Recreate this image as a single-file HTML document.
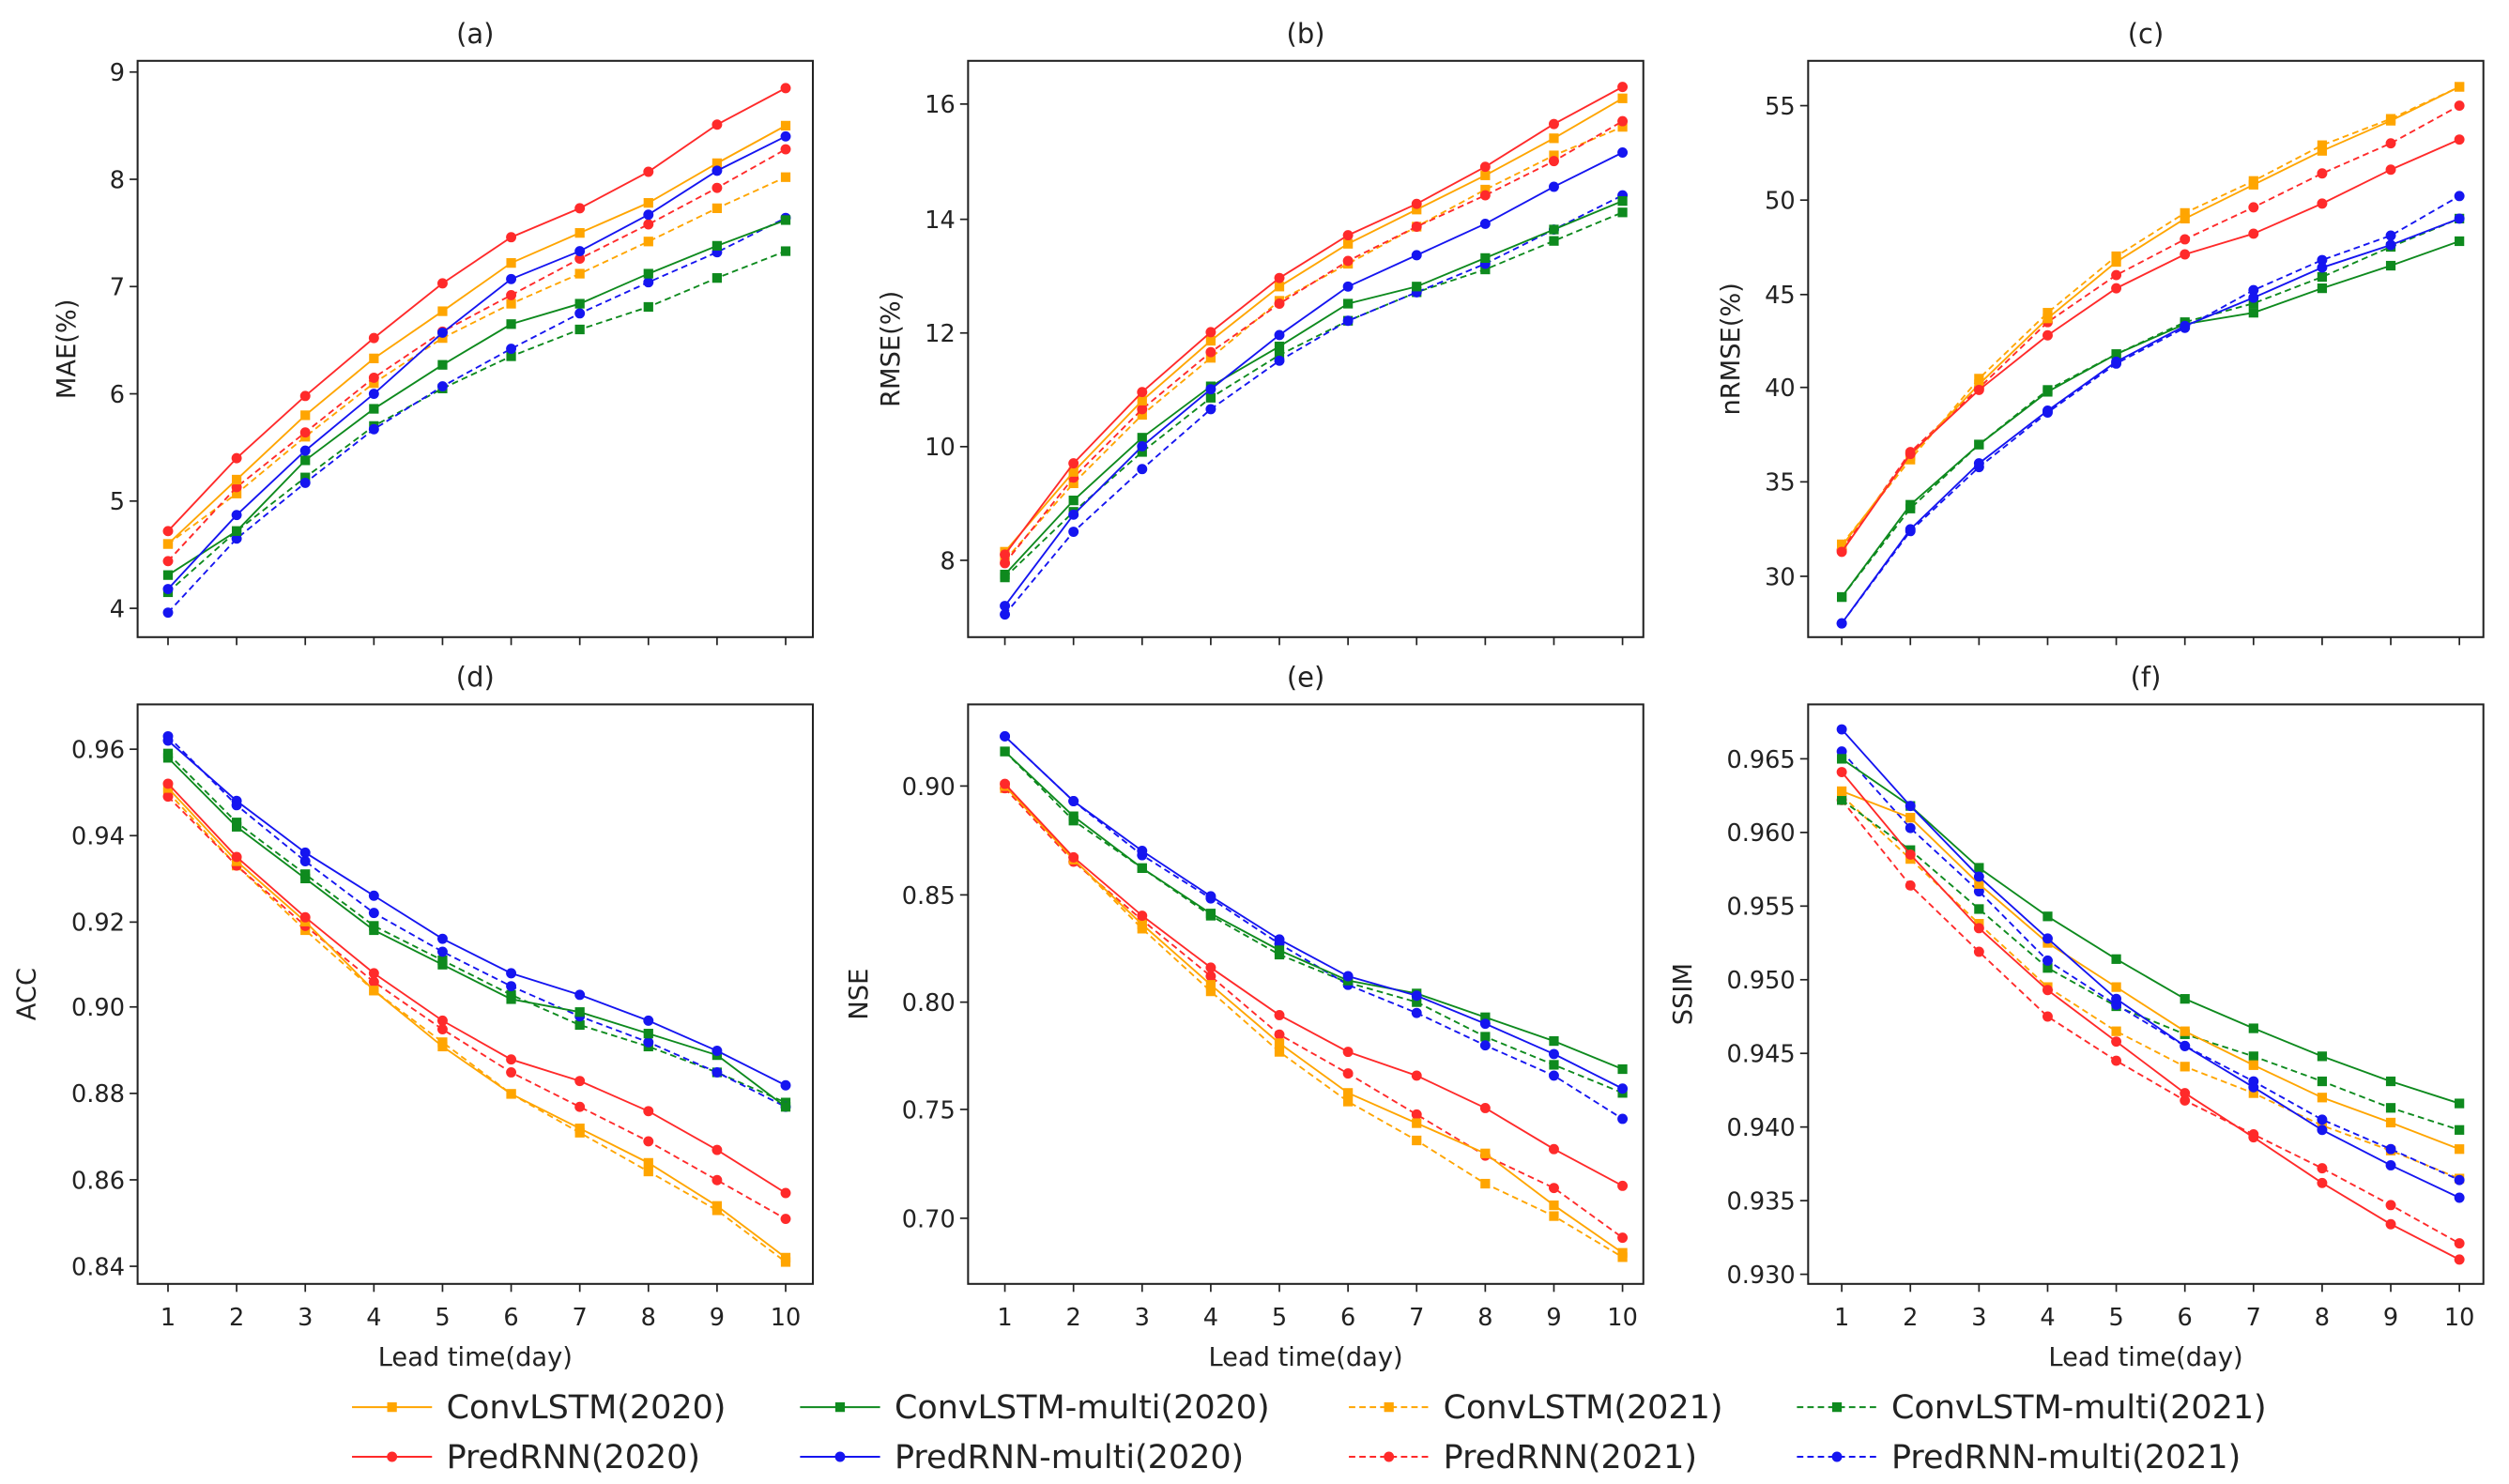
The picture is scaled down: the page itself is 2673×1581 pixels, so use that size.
<!DOCTYPE html>
<html><head><meta charset="utf-8"><style>
html,body{margin:0;padding:0;background:#fff}
svg{display:block}
text{font-family:"DejaVu Sans","Liberation Sans",sans-serif;fill:#222}
</style></head><body>
<svg id="s" width="2673" height="1581" viewBox="0 0 1568 927" preserveAspectRatio="none" xmlns="http://www.w3.org/2000/svg"></svg>
<script>
const NS="http://www.w3.org/2000/svg";const S=document.getElementById('s');
function el(t,a,txt){const e=document.createElementNS(NS,t);for(const k in a)e.setAttribute(k,a[k]);if(txt!==undefined)e.textContent=txt;S.appendChild(e);return e;}
const C={o:'#FFA500',r:'#FF2A2A',g:'#0E8A1E',b:'#1515F0'};
const ST=[['o',0,'s'],['r',0,'c'],['g',0,'s'],['b',0,'c'],['o',1,'s'],['r',1,'c'],['g',1,'s'],['b',1,'c']];
const P=[
{t:'(a)',yl:'MAE(%)',ylx:47,L:86,R:508,T:38,B:398,x1:105,x10:491,ticks:[[9,45],[8,112],[7,179],[6,246],[5,313],[4,380]],fmt:v=>v,xl:false,
d:[[4.60,5.20,5.80,6.33,6.77,7.22,7.50,7.78,8.15,8.50],[4.72,5.40,5.98,6.52,7.03,7.46,7.73,8.07,8.51,8.85],[4.31,4.72,5.38,5.86,6.27,6.65,6.84,7.12,7.38,7.62],[4.18,4.87,5.47,6.00,6.57,7.07,7.33,7.67,8.08,8.40],[4.60,5.07,5.60,6.10,6.52,6.84,7.12,7.42,7.73,8.02],[4.44,5.13,5.64,6.15,6.58,6.92,7.26,7.58,7.92,8.28],[4.15,4.72,5.22,5.70,6.05,6.35,6.60,6.81,7.08,7.33],[3.96,4.65,5.17,5.67,6.07,6.42,6.75,7.04,7.32,7.64]]},
{t:'(b)',yl:'RMSE(%)',ylx:562,L:605,R:1027,T:38,B:398,x1:628,x10:1014,ticks:[[16,65],[14,137],[12,208],[10,279],[8,350]],fmt:v=>v,xl:false,
d:[[8.15,9.55,10.8,11.85,12.8,13.55,14.15,14.75,15.4,16.1],[8.1,9.7,10.95,12.0,12.95,13.7,14.25,14.9,15.65,16.3],[7.75,9.05,10.15,11.05,11.75,12.5,12.8,13.3,13.8,14.3],[7.2,8.8,10.0,11.0,11.95,12.8,13.35,13.9,14.55,15.15],[8.0,9.35,10.55,11.55,12.55,13.2,13.85,14.5,15.1,15.6],[7.95,9.45,10.65,11.65,12.5,13.25,13.85,14.4,15.0,15.7],[7.7,8.85,9.9,10.85,11.6,12.2,12.7,13.1,13.6,14.1],[7.05,8.5,9.6,10.65,11.5,12.2,12.7,13.2,13.8,14.4]]},
{t:'(c)',yl:'nRMSE(%)',ylx:1087,L:1130,R:1552,T:38,B:398,x1:1151,x10:1537,ticks:[[55,66],[50,125],[45,184],[40,242],[35,301],[30,360]],fmt:v=>v,xl:false,
d:[[31.6,36.4,40.2,43.7,46.7,49.0,50.8,52.6,54.2,56.0],[31.3,36.5,39.9,42.8,45.3,47.1,48.2,49.8,51.6,53.2],[28.9,33.8,37.0,39.8,41.8,43.4,44.0,45.3,46.5,47.8],[27.5,32.5,36.0,38.8,41.4,43.3,44.8,46.4,47.6,49.0],[31.7,36.2,40.5,44.0,47.0,49.3,51.0,52.9,54.3,56.0],[31.4,36.6,40.0,43.5,46.0,47.9,49.6,51.4,53.0,55.0],[28.9,33.6,37.0,39.9,41.8,43.5,44.5,45.9,47.5,49.0],[27.5,32.4,35.8,38.7,41.3,43.2,45.2,46.8,48.1,50.2]]},
{t:'(d)',yl:'ACC',ylx:22,L:86,R:508,T:440,B:802,x1:105,x10:491,ticks:[[0.96,468],[0.94,522],[0.92,576],[0.90,629],[0.88,683],[0.86,737],[0.84,791]],fmt:v=>v.toFixed(2),xl:true,
d:[[.951,.934,.920,.904,.891,.880,.872,.864,.854,.842],[.952,.935,.921,.908,.897,.888,.883,.876,.867,.857],[.958,.942,.930,.918,.910,.902,.899,.894,.889,.877],[.962,.948,.936,.926,.916,.908,.903,.897,.890,.882],[.950,.933,.918,.904,.892,.880,.871,.862,.853,.841],[.949,.933,.919,.906,.895,.885,.877,.869,.860,.851],[.959,.943,.931,.919,.911,.903,.896,.891,.885,.878],[.963,.947,.934,.922,.913,.905,.898,.892,.885,.877]]},
{t:'(e)',yl:'NSE',ylx:542,L:605,R:1027,T:440,B:802,x1:628,x10:1014,ticks:[[0.90,491],[0.85,559],[0.80,626],[0.75,693],[0.70,761]],fmt:v=>v.toFixed(2),xl:true,
d:[[.900,.866,.836,.808,.781,.758,.744,.730,.706,.684],[.901,.867,.840,.816,.794,.777,.766,.751,.732,.715],[.916,.886,.862,.841,.824,.810,.804,.793,.782,.769],[.923,.893,.870,.849,.829,.812,.803,.790,.776,.760],[.899,.866,.834,.805,.777,.754,.736,.716,.701,.682],[.899,.865,.838,.812,.785,.767,.748,.729,.714,.691],[.916,.884,.862,.840,.822,.809,.800,.784,.771,.758],[.923,.893,.868,.848,.827,.808,.795,.780,.766,.746]]},
{t:'(f)',yl:'SSIM',ylx:1057,L:1130,R:1552,T:440,B:802,x1:1151,x10:1537,ticks:[[0.965,474],[0.960,520],[0.955,566],[0.950,612],[0.945,658],[0.940,704],[0.935,750],[0.930,796]],fmt:v=>v.toFixed(3),xl:true,
d:[[.9628,.9610,.9565,.9525,.9495,.9465,.9442,.9420,.9403,.9385],[.9641,.9585,.9535,.9493,.9458,.9423,.9393,.9362,.9334,.9310],[.9650,.9618,.9576,.9543,.9514,.9487,.9467,.9448,.9431,.9416],[.9670,.9618,.9570,.9528,.9487,.9455,.9427,.9398,.9374,.9352],[.9625,.9582,.9538,.9495,.9465,.9441,.9423,.9401,.9384,.9365],[.9622,.9564,.9519,.9475,.9445,.9418,.9395,.9372,.9347,.9321],[.9622,.9588,.9548,.9508,.9482,.9463,.9448,.9431,.9413,.9398],[.9655,.9603,.9560,.9513,.9483,.9455,.9431,.9405,.9385,.9364]]}
];
function marker(x,y,c,m){if(m==='s')el('rect',{x:x-3,y:y-3,width:6,height:6,fill:c});else el('circle',{cx:x,cy:y,r:3.2,fill:c});}
P.forEach(p=>{
 const t0=p.ticks[0],t1=p.ticks[p.ticks.length-1];
 const ys=v=>t0[1]+(v-t0[0])*(t1[1]-t0[1])/(t1[0]-t0[0]);
 const xs=i=>p.x1+i*(p.x10-p.x1)/9;
 el('text',{x:(p.L+p.R)/2,y:p.T-11,'text-anchor':'middle','font-size':17},p.t);
 p.ticks.forEach(([v,y])=>{el('line',{x1:p.L-5,x2:p.L,y1:y,y2:y,stroke:'#222','stroke-width':1});
  el('text',{x:p.L-8,y:y+5.5,'text-anchor':'end','font-size':15},p.fmt(v));});
 for(let i=0;i<10;i++){const x=xs(i);el('line',{x1:x,x2:x,y1:p.B,y2:p.B+5,stroke:'#222','stroke-width':1});
  if(p.xl)el('text',{x:x,y:p.B+26,'text-anchor':'middle','font-size':15},i+1);}
 if(p.xl)el('text',{x:(p.L+p.R)/2,y:p.B+51,'text-anchor':'middle','font-size':16},'Lead time(day)');
 const cy=(p.T+p.B)/2;el('text',{x:p.ylx,y:cy,'text-anchor':'middle','font-size':16,transform:`rotate(-90 ${p.ylx} ${cy})`},p.yl);
 [4,5,6,7,0,1,2,3].forEach(k=>{const [c,d,m]=ST[k];const pts=p.d[k].map((v,i)=>xs(i)+','+ys(v)).join(' ');
  const a={points:pts,fill:'none',stroke:C[c],'stroke-width':1.1};if(d)a['stroke-dasharray']='4,2.5';el('polyline',a);
  p.d[k].forEach((v,i)=>marker(xs(i),ys(v),C[c],m));});
 el('rect',{x:p.L,y:p.T,width:p.R-p.L,height:p.B-p.T,fill:'none',stroke:'#222','stroke-width':1.2});
});
const LG=[[220,879,0,'ConvLSTM(2020)'],[500,879,2,'ConvLSTM-multi(2020)'],[843,879,4,'ConvLSTM(2021)'],[1123,879,6,'ConvLSTM-multi(2021)'],
[220,910,1,'PredRNN(2020)'],[500,910,3,'PredRNN-multi(2020)'],[843,910,5,'PredRNN(2021)'],[1123,910,7,'PredRNN-multi(2021)']];
LG.forEach(([x,y,k,s])=>{const [c,d,m]=ST[k];const a={x1:x,x2:x+50,y1:y,y2:y,stroke:C[c],'stroke-width':1.2};if(d)a['stroke-dasharray']='4,2.5';el('line',a);
 marker(x+25,y,C[c],m);el('text',{x:x+59,y:y+7,'font-size':20.5},s);});
</script>
</body></html>
